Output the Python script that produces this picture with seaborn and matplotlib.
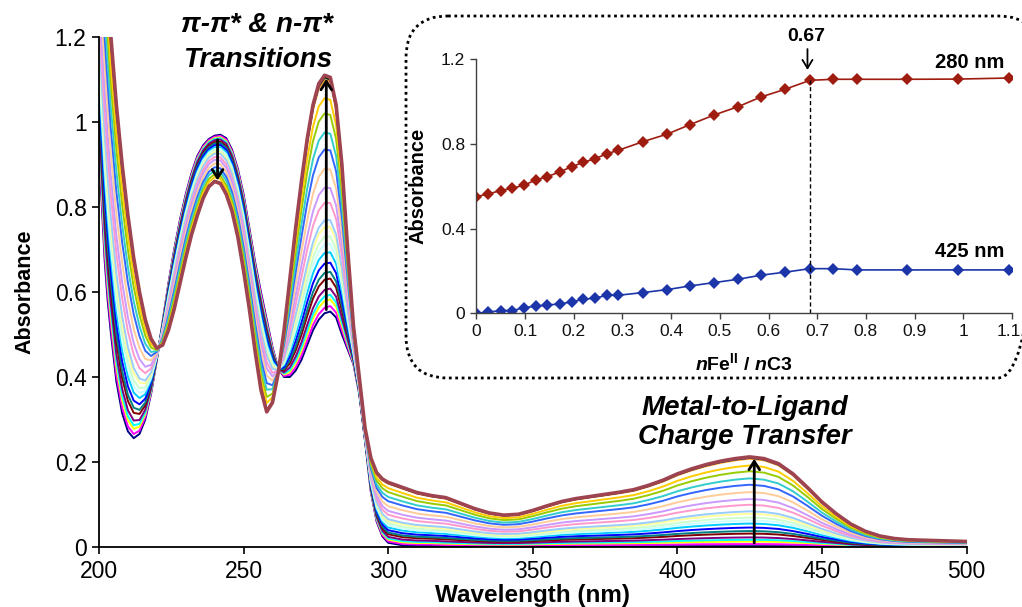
import numpy as np
import pandas as pd
import matplotlib
matplotlib.use("Agg")
import matplotlib.pyplot as plt
import matplotlib.transforms as mtransforms
import seaborn as sns
from matplotlib.patches import FancyBboxPatch

# ---------------- data ----------------
wavelength = [200, 201, 202, 203, 204,
              206, 208, 210, 212, 214, 216, 218, 220, 222, 224, 226, 228, 230,
              232, 234, 236, 238, 240, 242, 244, 246, 248, 250, 252, 254, 256,
              258, 260, 262, 264, 266, 268, 270, 272, 274, 276, 278, 280, 282,
              284, 286, 288, 290, 292, 294, 296, 298, 300,
              305, 310, 315, 320, 325, 330, 335, 340, 345, 350, 355, 360, 365,
              370, 375, 380, 385, 390, 395, 400, 405, 410, 415, 420, 425, 430,
              435, 440, 445, 450, 455, 460, 465, 470, 475, 480, 485, 490, 495, 500]

# free ligand spectrum (first spectrum of the titration)
abs_initial = [0.95, 0.80, 0.67, 0.58, 0.51,
               0.39, 0.315, 0.272, 0.256, 0.266, 0.30, 0.36, 0.44, 0.53, 0.62, 0.70, 0.77, 0.83,
               0.88, 0.92, 0.945, 0.96, 0.968, 0.970, 0.962, 0.935, 0.89, 0.83, 0.75, 0.67, 0.60,
               0.535, 0.47, 0.42, 0.40, 0.40, 0.415, 0.44, 0.475, 0.51, 0.535, 0.55, 0.554, 0.54,
               0.50, 0.465, 0.43, 0.36, 0.25, 0.13, 0.06, 0.025, 0.01,
               0.004, 0.003, 0.003, 0.002, 0.002, 0.002, 0.002, 0.002, 0.002, 0.002, 0.002, 0.002, 0.002,
               0.002, 0.002, 0.002, 0.002, 0.002, 0.002, 0.002, 0.002, 0.002, 0.002, 0.002, 0.002, 0.002,
               0.002, 0.002, 0.002, 0.002, 0.002, 0.001, 0.001, 0.001, 0.001, 0.001, 0.001, 0.001, 0.001, 0.001]

# saturated complex spectrum (last spectrum of the titration)
abs_final = [1.60, 1.52, 1.43, 1.32, 1.21,
             1.04, 0.90, 0.78, 0.68, 0.60, 0.535, 0.49, 0.468, 0.475, 0.51, 0.56, 0.62, 0.68,
             0.735, 0.78, 0.82, 0.848, 0.86, 0.855, 0.83, 0.79, 0.73, 0.65, 0.56, 0.46, 0.37,
             0.318, 0.34, 0.41, 0.51, 0.63, 0.75, 0.86, 0.96, 1.04, 1.09, 1.11, 1.105, 1.04,
             0.90, 0.70, 0.52, 0.40, 0.28, 0.21, 0.175, 0.16, 0.152,
             0.14, 0.128, 0.121, 0.116, 0.103, 0.09, 0.08, 0.075, 0.077, 0.086, 0.097, 0.107, 0.114,
             0.119, 0.124, 0.129, 0.135, 0.145, 0.157, 0.172, 0.184, 0.194, 0.202, 0.208, 0.212, 0.208,
             0.196, 0.172, 0.14, 0.106, 0.078, 0.054, 0.037, 0.026, 0.02, 0.017, 0.016, 0.015, 0.014, 0.013]

# inset: titration curve
ratio = [0.0, 0.0245, 0.0498, 0.0743, 0.0987, 0.1216, 0.146, 0.171, 0.196, 0.219,
         0.244, 0.268, 0.291, 0.342, 0.392, 0.438, 0.488, 0.538, 0.584, 0.633,
         0.685, 0.732, 0.782, 0.885, 0.989, 1.094]
a280 = [0.551, 0.564, 0.580, 0.591, 0.606, 0.630, 0.646, 0.668, 0.693, 0.713,
        0.731, 0.754, 0.770, 0.811, 0.847, 0.891, 0.937, 0.977, 1.022, 1.058,
        1.101, 1.106, 1.106, 1.106, 1.107, 1.112]
a425 = [0.0, 0.005, 0.013, 0.013, 0.027, 0.033, 0.039, 0.044, 0.054, 0.066,
        0.072, 0.085, 0.085, 0.098, 0.112, 0.129, 0.145, 0.161, 0.180, 0.194,
        0.211, 0.211, 0.205, 0.205, 0.205, 0.205]

curve_colors = ['#000080', '#FF00FF', '#FFFF00', '#00FFFF', '#800080', '#800000',
                '#008080', '#0000FF', '#00CCFF', '#CCFFFF', '#CCFFCC', '#FFFF99',
                '#99CCFF', '#FF99CC', '#CC99FF', '#FFCC99', '#3366FF', '#33CCCC',
                '#99CC00', '#FFCC00', '#FF9900', '#FF6600', '#666699', '#969696',
                '#003300', '#9E4350']

x_ticks_main = [200, 250, 300, 350, 400, 450, 500]
y_ticks_main = [0, 0.2, 0.4, 0.6, 0.8, 1, 1.2]
y_tick_labels_main = ['0', '0.2', '0.4', '0.6', '0.8', '1', '1.2']
x_ticks_inset = [0, 0.1, 0.2, 0.3, 0.4, 0.5, 0.6, 0.7, 0.8, 0.9, 1, 1.1]
x_tick_labels_inset = ['0', '0.1', '0.2', '0.3', '0.4', '0.5', '0.6', '0.7', '0.8', '0.9', '1', '1.1']
y_ticks_inset = [0, 0.4, 0.8, 1.2]
y_tick_labels_inset = ['0', '0.4', '0.8', '1.2']

# ---------------- build spectra (each titration point = mix of end spectra) ----------------
w = np.array(wavelength, float)
s0 = np.array(abs_initial, float)
s1 = np.array(abs_final, float)
a280_arr = np.array(a280, float)
frac = (a280_arr - a280_arr[0]) / (a280_arr[-1] - a280_arr[0])
rows = []
for i, f in enumerate(frac):
    spec = s0 + f * (s1 - s0)
    rows.append(pd.DataFrame({'wavelength': w, 'absorbance': spec, 'curve': i}))
df = pd.concat(rows, ignore_index=True)

# ---------------- style ----------------
sns.set_theme(style='ticks')
plt.rcParams['font.family'] = ['Liberation Sans', 'DejaVu Sans']
plt.rcParams['text.color'] = 'black'
plt.rcParams['axes.labelcolor'] = 'black'
plt.rcParams['xtick.color'] = 'black'
plt.rcParams['ytick.color'] = 'black'
plt.rcParams['mathtext.fontset'] = 'custom'
plt.rcParams['mathtext.rm'] = 'Liberation Sans:bold'
plt.rcParams['mathtext.bf'] = 'Liberation Sans:bold'
plt.rcParams['mathtext.it'] = 'Liberation Sans:bold:italic'

W, H = 1022, 607
fig = plt.figure(figsize=(W / 100, H / 100), dpi=100)

# overlay axes in pixel coordinates for the dotted rounded frame of the inset
ov = fig.add_axes([0, 0, 1, 1])
ov.set_xlim(0, W)
ov.set_ylim(H, 0)
ov.axis('off')
R = 42
x0f, x1f, y0f, y1f = 406, 1040, 16, 378
frame = FancyBboxPatch((x0f + R, y0f + R), x1f - x0f - 2 * R, y1f - y0f - 2 * R,
                       boxstyle='round,pad=%d' % R, fill=False, edgecolor='black',
                       linewidth=2.0, linestyle=(0, (1, 1.3)))
ov.add_patch(frame)

# ---------------- main axes ----------------
ax = fig.add_axes([99 / W, (H - 547) / H, (966.5 - 99) / W, (547 - 37) / H])
ax.patch.set_alpha(0)
palette = curve_colors[:-1]
sns.lineplot(data=df[df['curve'] < len(frac) - 1], x='wavelength', y='absorbance',
             hue='curve', palette=palette, linewidth=1.4, legend=False,
             estimator=None, sort=False, ax=ax)
sns.lineplot(data=df[df['curve'] == len(frac) - 1], x='wavelength', y='absorbance',
             color=curve_colors[-1], linewidth=2.6, estimator=None, sort=False, ax=ax)

ax.set_xlim(200, 500)
ax.set_ylim(0, 1.2)
ax.set_xticks(x_ticks_main)
ax.set_xticklabels([str(t) for t in x_ticks_main])
ax.set_yticks(y_ticks_main)
ax.set_yticklabels(y_tick_labels_main)
for s in ['top', 'right']:
    ax.spines[s].set_visible(False)
for s in ['left', 'bottom']:
    ax.spines[s].set_color('black')
    ax.spines[s].set_linewidth(1.3)
ax.tick_params(axis='both', direction='out', length=5, width=1.2, color='black',
               labelsize=16.5, labelcolor='black', pad=4)
ax.set_xlabel('Wavelength (nm)', fontsize=17.5, fontweight='bold', labelpad=1)
ax.set_ylabel('Absorbance', fontsize=15.5, fontweight='bold', labelpad=14)

arrow_kw = dict(arrowstyle='->,head_length=0.5,head_width=0.32', lw=2.0, color='black')
ax.annotate('', xy=(241, 0.856), xytext=(241, 0.965), arrowprops=arrow_kw, zorder=50)
ax.annotate('', xy=(278.6, 1.108), xytext=(278.6, 0.552), arrowprops=arrow_kw, zorder=50)
ax.annotate('', xy=(426.6, 0.214), xytext=(426.6, 0.003), arrowprops=arrow_kw, zorder=50)

ax.text(254.7, 1.228, 'π-π* & n-π*', ha='center', va='center', fontsize=20,
        fontweight='bold', fontstyle='italic', clip_on=False)
ax.text(254.7, 1.146, 'Transitions', ha='center', va='center', fontsize=20,
        fontweight='bold', fontstyle='italic', clip_on=False)
ax.text(423.2, 0.327, 'Metal-to-Ligand', ha='center', va='center', fontsize=20,
        fontweight='bold', fontstyle='italic')
ax.text(423.5, 0.259, 'Charge Transfer', ha='center', va='center', fontsize=20,
        fontweight='bold', fontstyle='italic')

# ---------------- inset ----------------
ins = fig.add_axes([476.3 / W, (H - 313.3) / H, (1012 - 476.3) / W, (313.3 - 59.4) / H])
ins.patch.set_alpha(0)
inset_df = pd.DataFrame({'ratio': ratio, 'a280': a280, 'a425': a425})
sns.lineplot(data=inset_df, x='ratio', y='a280', color='#9E1C10', linewidth=1.2,
             marker='D', markersize=6, markeredgewidth=0, estimator=None, sort=False, ax=ins)
sns.lineplot(data=inset_df, x='ratio', y='a425', color='#1C35A8', linewidth=1.2,
             marker='D', markersize=6, markeredgewidth=0, estimator=None, sort=False, ax=ins)
ins.set_xlim(0, 1.1)
ins.set_ylim(0, 1.2)
ins.set_xticks(x_ticks_inset)
ins.set_xticklabels(x_tick_labels_inset)
ins.set_yticks(y_ticks_inset)
ins.set_yticklabels(y_tick_labels_inset)
for s in ['top', 'right']:
    ins.spines[s].set_visible(False)
for s in ['left', 'bottom']:
    ins.spines[s].set_color('#404040')
    ins.spines[s].set_linewidth(1.0)
ins.tick_params(axis='both', direction='out', length=4, width=1.0, color='#404040',
                labelsize=12.5, labelcolor='#111111', pad=4)
# keep the last inset tick label inside the picture
last_lbl = ins.get_xticklabels()[-1]
last_lbl.set_transform(last_lbl.get_transform() +
                       mtransforms.ScaledTranslation(-3 / 100, 0, fig.dpi_scale_trans))
ins.set_xlabel(r'$\mathit{n}\mathrm{Fe}^{\mathrm{II}}\ /\ \mathit{n}\mathrm{C3}$',
               fontsize=14, labelpad=9)
ins.set_ylabel('Absorbance', fontsize=14.5, fontweight='bold', labelpad=10)

ins.plot([ratio[20], ratio[20]], [0, a280[20]], color='black', linewidth=1.0,
         linestyle=(0, (3, 2)))
ins.annotate('', xy=(0.680, 1.137), xytext=(0.680, 1.262),
             arrowprops=dict(arrowstyle='->,head_length=0.5,head_width=0.3', lw=1.3, color='black'),
             annotation_clip=False)
ins.text(0.678, 1.307, '0.67', ha='center', va='center', fontsize=14, fontweight='bold',
         clip_on=False)
ins.text(1.085, 1.184, '280 nm', ha='right', va='center', fontsize=14.5, fontweight='bold',
         clip_on=False)
ins.text(1.085, 0.291, '425 nm', ha='right', va='center', fontsize=14.5, fontweight='bold',
         clip_on=False)

fig.savefig('out.png', dpi=100)
